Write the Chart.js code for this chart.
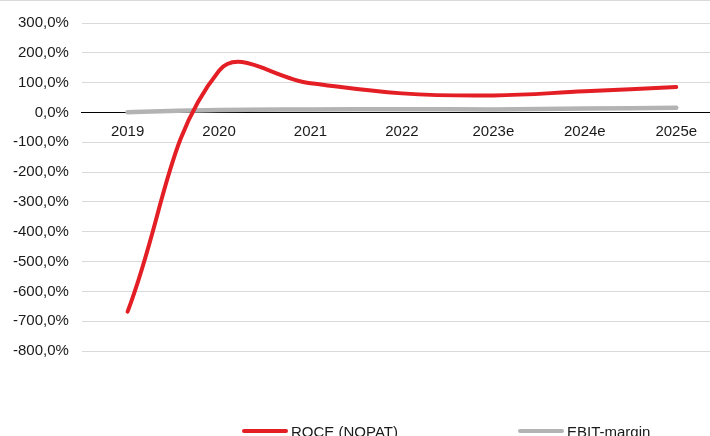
<!DOCTYPE html>
<html>
<head>
<meta charset="utf-8">
<script src="https://cdn.jsdelivr.net/npm/chart.js@4.4.1/dist/chart.umd.min.js"></script>
<style>
  html, body { margin: 0; padding: 0; background: #fff; overflow: hidden; }
  body { width: 710px; height: 436px; position: relative; }
  #wrap { position: absolute; left: 0; top: 0; width: 722px; height: 436px; }
  #frame { position: absolute; left: 0; top: 0; width: 710px; height: 1px; background: #d9d9d9; }
</style>
</head>
<body>
<div id="wrap"><canvas id="c" width="722" height="436"></canvas></div>
<div id="frame"></div>
<script>
// Years on the category axis
const years = ['2019', '2020', '2021', '2022', '2023e', '2024e', '2025e'];
// Return on capital employed (NOPAT based), in percent
const roce = [-668, 140, 98, 64, 57, 71, 85];
// EBIT margin, in percent
const ebitMargin = [1, 8, 10, 11, 10, 13, 16];
// Value axis labels run from -800 % to 300 %
const yMin = -800;
const yMax = 300;
const yStep = 100;

const seriesNames = ['ROCE (NOPAT)', 'EBIT-margin'];
const seriesColors = ['#e41e25', '#b3b3b3'];

const fontFamily = '"Liberation Sans", Arial, sans-serif';

function pct(v) {
  return v.toFixed(1).replace('.', ',') + '%';
}

// Legend drawn as long line samples along the bottom edge
const bottomLegend = {
  id: 'bottomLegend',
  afterDraw(chart) {
    const ctx = chart.ctx;
    const slots = [242, 518];
    const y = 431;
    ctx.save();
    chart.data.datasets.forEach((ds, i) => {
      const x = slots[i];
      ctx.strokeStyle = ds.borderColor;
      ctx.lineWidth = 4;
      ctx.lineCap = 'round';
      ctx.beginPath();
      ctx.moveTo(x + 2, y);
      ctx.lineTo(x + 44, y);
      ctx.stroke();
      ctx.fillStyle = '#1a1a1a';
      ctx.font = '15px ' + fontFamily;
      ctx.textBaseline = 'alphabetic';
      ctx.textAlign = 'left';
      ctx.fillText(ds.label, x + 49, y + 5.5);
    });
    ctx.restore();
  }
};

new Chart(document.getElementById('c'), {
  type: 'line',
  data: {
    labels: years,
    datasets: [
      {
        label: seriesNames[0],
        data: roce,
        borderColor: seriesColors[0],
        backgroundColor: seriesColors[0],
        borderWidth: 4,
        pointRadius: 0,
        tension: 0.4,
        borderCapStyle: 'round'
      },
      {
        label: seriesNames[1],
        data: ebitMargin,
        borderColor: seriesColors[1],
        backgroundColor: seriesColors[1],
        borderWidth: 4.5,
        pointRadius: 0,
        tension: 0.4,
        borderCapStyle: 'round'
      }
    ]
  },
  options: {
    responsive: false,
    animation: false,
    layout: { padding: { top: 23, bottom: 85, left: 0, right: 0 } },
    plugins: {
      legend: { display: false },
      tooltip: { enabled: false }
    },
    scales: {
      x: {
        position: { y: 0 },
        offset: true,
        grid: { display: false, drawTicks: false },
        border: { display: true, color: '#000000', width: 1 },
        ticks: {
          color: '#1a1a1a',
          font: { family: fontFamily, size: 15 },
          padding: 10,
          maxRotation: 0,
          autoSkip: false
        }
      },
      y: {
        min: yMin,
        max: yMax,
        grid: { color: '#d9d9d9', lineWidth: 1, drawTicks: false },
        border: { display: false },
        ticks: {
          stepSize: yStep,
          color: '#1a1a1a',
          font: { family: fontFamily, size: 15 },
          padding: 13,
          callback: (v) => pct(v)
        }
      }
    }
  },
  plugins: [bottomLegend]
});
</script>
</body>
</html>
